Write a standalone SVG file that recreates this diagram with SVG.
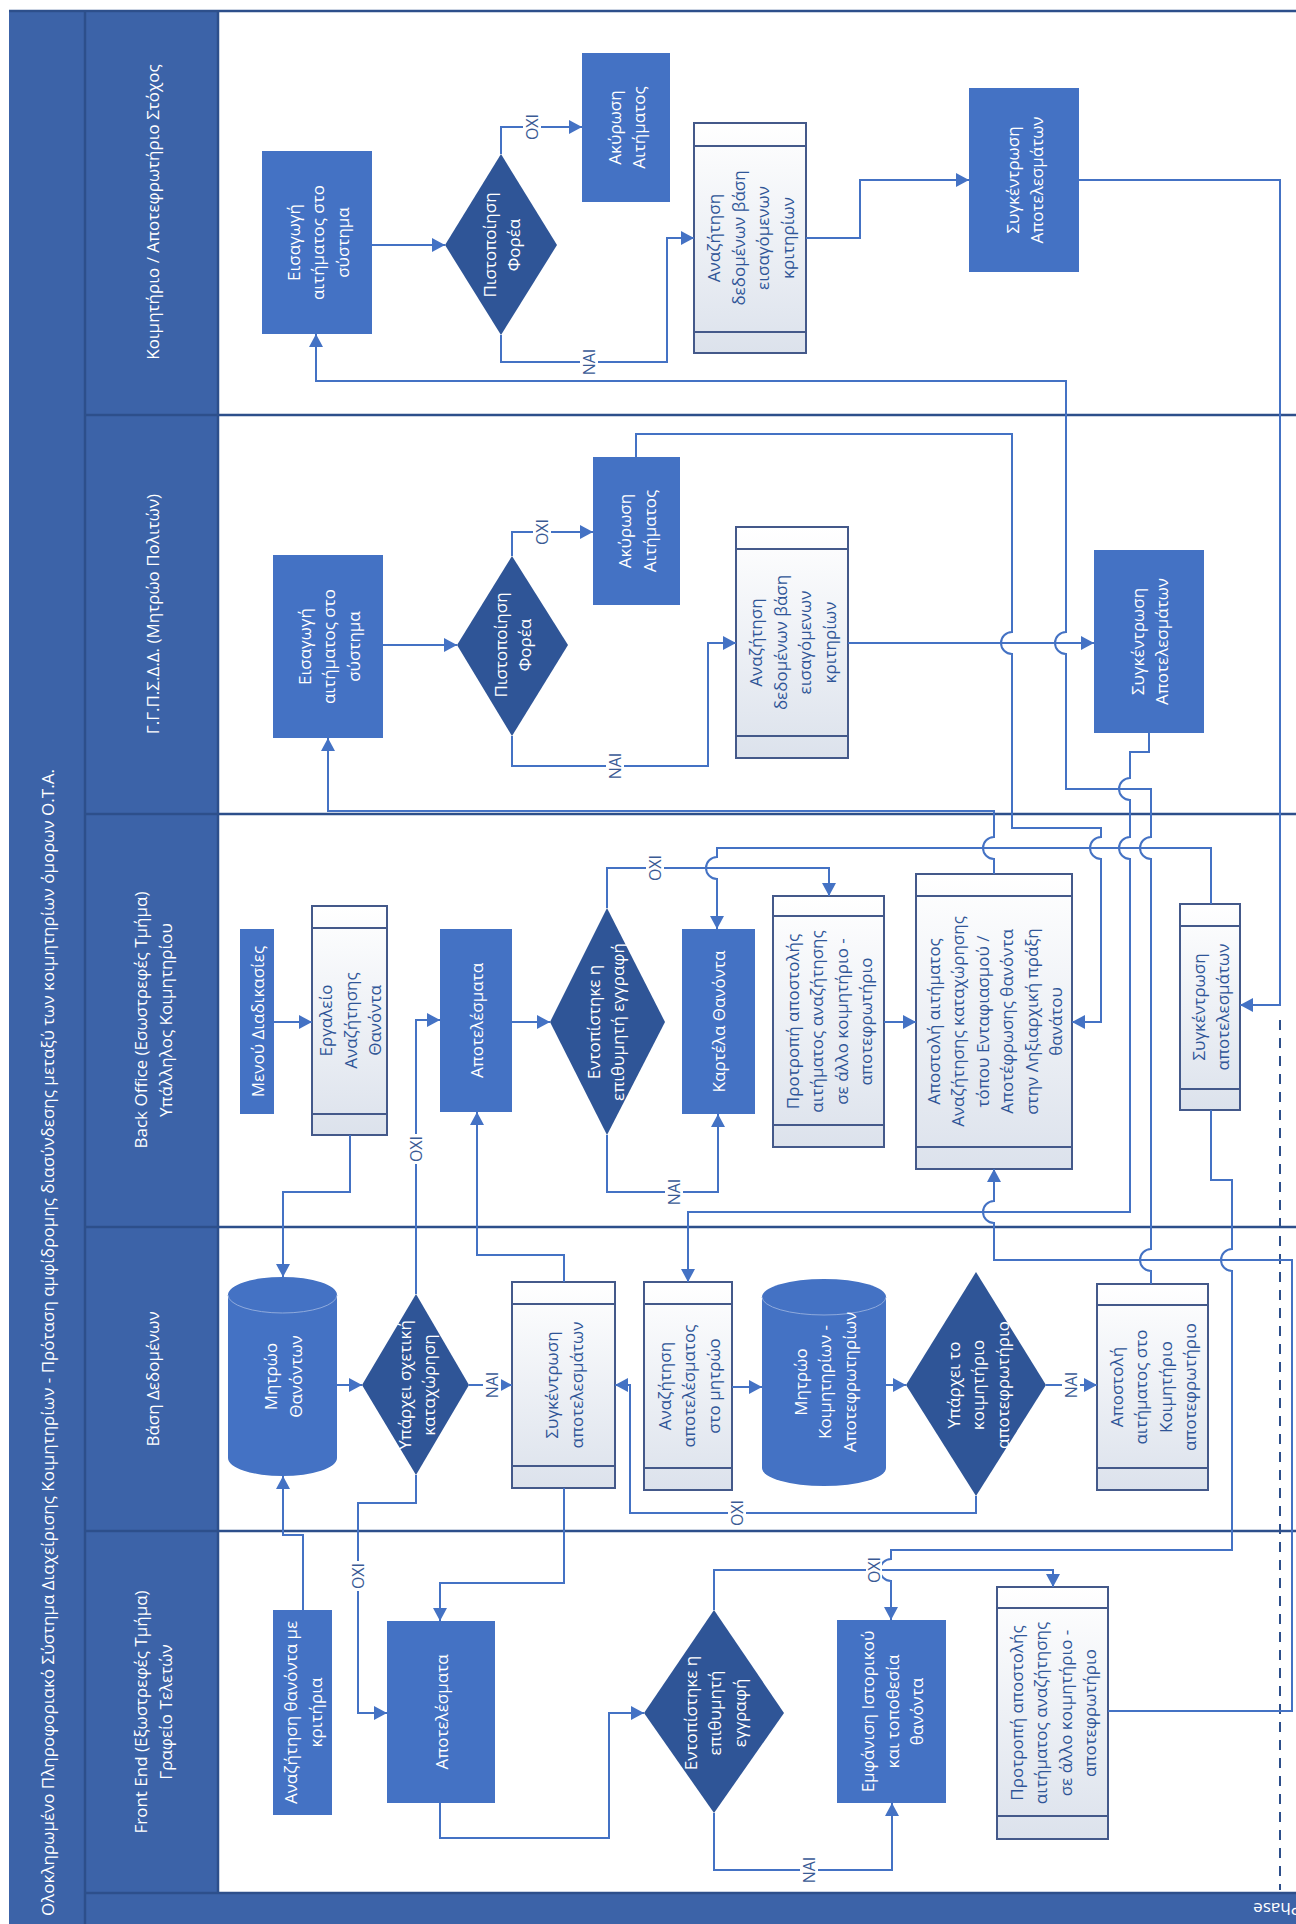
<svg xmlns="http://www.w3.org/2000/svg" width="1296" height="1924" viewBox="0 0 1296 1924">
<defs>
<linearGradient id="sg" x1="0" y1="0" x2="0" y2="1"><stop offset="0" stop-color="#FFFFFF"/><stop offset="1" stop-color="#DCE2EC"/></linearGradient>
<marker id="ah" markerUnits="userSpaceOnUse" markerWidth="14" markerHeight="14" refX="13" refY="7" orient="auto"><path d="M0,0 L13,7 L0,14 Z" fill="#4472C4"/></marker>
<style>
.hdr{fill:#3C63A8}
.ht{fill:#fff;font-family:"Open Sans","Noto Sans",sans-serif;font-size:17px;text-anchor:middle;dominant-baseline:central}
.lane{stroke:#2D4F8B;stroke-width:2.5;fill:none}
.box{fill:#4472C4}
.dia{fill:#2F5597}
.sub{fill:url(#sg);stroke:#44598A;stroke-width:2}
.subl{stroke:#44598A;stroke-width:2}
.lid{fill:none;stroke:#8FAADC;stroke-width:1}
.tw{fill:#fff;font-family:"Open Sans","Noto Sans",sans-serif;font-size:17px;text-anchor:middle;dominant-baseline:central}
.tb{fill:#2F5597;font-family:"Open Sans","Noto Sans",sans-serif;font-size:17px;text-anchor:middle;dominant-baseline:central}
.c{fill:none;stroke:#4472C4;stroke-width:2}
.a{marker-end:url(#ah)}
.lb{fill:#3A5A94;font-family:"Open Sans","Noto Sans",sans-serif;font-size:16px;text-anchor:middle;dominant-baseline:central}
.lbg{fill:#fff}
.dash{stroke:#2D4F8B;stroke-width:2;stroke-dasharray:10 8;fill:none}
</style>
</defs>

<g id="frame">
<rect x="9" y="10" width="1295" height="1920" class="hdr"/>
<rect x="218" y="11" width="1080" height="1882" fill="#FFFFFF"/>
<line x1="85" y1="10" x2="85" y2="1924" class="lane"/>
<line x1="218" y1="10" x2="218" y2="1893" class="lane"/>
<line x1="9" y1="11" x2="1296" y2="11" class="lane"/>
<line x1="85" y1="415" x2="1296" y2="415" class="lane"/>
<line x1="85" y1="814" x2="1296" y2="814" class="lane"/>
<line x1="85" y1="1227" x2="1296" y2="1227" class="lane"/>
<line x1="85" y1="1531" x2="1296" y2="1531" class="lane"/>
<line x1="85" y1="1893" x2="1296" y2="1893" class="lane"/>
<text class="ht" style="text-anchor:start" x="47" y="1916" transform="rotate(-90 47 1916)">Ολοκληρωμένο Πληροφοριακό Σύστημα Διαχείρισης Κοιμητηρίων - Πρόταση αμφίδρομης διασύνδεσης μεταξύ των κοιμητηρίων όμορων Ο.Τ.Α.</text>
<text class="ht" x="152" y="212" transform="rotate(-90 152 212)">Κοιμητήριο / Αποτεφρωτήριο Στόχος</text>
<text class="ht" x="152" y="614" transform="rotate(-90 152 614)">Γ.Γ.Π.Σ.Δ.Δ. (Μητρώο Πολιτών)</text>
<text class="ht" transform="rotate(-90 152 1020)"><tspan x="152" y="1007.5">Back Office (Εσωστρεφές Τμήμα)</tspan><tspan x="152" y="1032.5">Υπάλληλος Κοιμητηρίου</tspan></text>
<text class="ht" x="152" y="1379" transform="rotate(-90 152 1379)">Βάση Δεδομένων</text>
<text class="ht" transform="rotate(-90 152 1712)"><tspan x="152" y="1699.5">Front End (Εξωστρεφές Τμήμα)</tspan><tspan x="152" y="1724.5">Γραφείο Τελετών</tspan></text>
<text class="ht" style="text-anchor:start" x="1301" y="1909" transform="rotate(180 1301 1909)">Phase</text>
<line x1="1280" y1="1020" x2="1280" y2="1890" class="dash"/>
</g>

<g id="k_eis"><rect class="box" x="262" y="151" width="110" height="183"/>
<text class="tw" transform="rotate(-90 317 242.5)"><tspan x="317" y="218">Εισαγωγή</tspan><tspan x="317" y="242.5">αιτήματος στο</tspan><tspan x="317" y="267">σύστημα</tspan></text></g>
<g id="k_dia"><polygon class="dia" points="501,154 557,245 501,335 445,245"/>
<text class="tw" transform="rotate(-90 501 245)"><tspan x="501" y="232.75">Πιστοποίηση</tspan><tspan x="501" y="257.25">Φορέα</tspan></text></g>
<g id="k_ak"><rect class="box" x="582" y="53" width="88" height="149"/>
<text class="tw" transform="rotate(-90 626 127.5)"><tspan x="626" y="115.25">Ακύρωση</tspan><tspan x="626" y="139.75">Αιτήματος</tspan></text></g>
<g id="k_s1"><rect class="sub" x="694" y="123" width="112" height="230"/><line class="subl" x1="694" y1="146" x2="806" y2="146"/><line class="subl" x1="694" y1="332" x2="806" y2="332"/>
<text class="tb" transform="rotate(-90 750 238)"><tspan x="750" y="201.25">Αναζήτηση</tspan><tspan x="750" y="225.75">δεδομένων βάση</tspan><tspan x="750" y="250.25">εισαγόμενων</tspan><tspan x="750" y="274.75">κριτηρίων</tspan></text></g>
<g id="k_sum"><rect class="box" x="969" y="88" width="110" height="184"/>
<text class="tw" transform="rotate(-90 1024 180)"><tspan x="1024" y="167.75">Συγκέντρωση</tspan><tspan x="1024" y="192.25">Αποτελεσμάτων</tspan></text></g>

<g id="g_eis"><rect class="box" x="273" y="555" width="110" height="183"/>
<text class="tw" transform="rotate(-90 328 646.5)"><tspan x="328" y="622">Εισαγωγή</tspan><tspan x="328" y="646.5">αιτήματος στο</tspan><tspan x="328" y="671">σύστημα</tspan></text></g>
<g id="g_dia"><polygon class="dia" points="512,556 568,645 512,736 457,645"/>
<text class="tw" transform="rotate(-90 512 645)"><tspan x="512" y="632.75">Πιστοποίηση</tspan><tspan x="512" y="657.25">Φορέα</tspan></text></g>
<g id="g_ak"><rect class="box" x="593" y="457" width="87" height="148"/>
<text class="tw" transform="rotate(-90 636.5 531)"><tspan x="636.5" y="518.75">Ακύρωση</tspan><tspan x="636.5" y="543.25">Αιτήματος</tspan></text></g>
<g id="g_s2"><rect class="sub" x="736" y="527" width="112" height="231"/><line class="subl" x1="736" y1="549" x2="848" y2="549"/><line class="subl" x1="736" y1="736" x2="848" y2="736"/>
<text class="tb" transform="rotate(-90 792 642.5)"><tspan x="792" y="605.75">Αναζήτηση</tspan><tspan x="792" y="630.25">δεδομένων βάση</tspan><tspan x="792" y="654.75">εισαγόμενων</tspan><tspan x="792" y="679.25">κριτηρίων</tspan></text></g>
<g id="g_sum"><rect class="box" x="1094" y="550" width="110" height="183"/>
<text class="tw" transform="rotate(-90 1149 641.5)"><tspan x="1149" y="629.25">Συγκέντρωση</tspan><tspan x="1149" y="653.75">Αποτελεσμάτων</tspan></text></g>

<g id="b_menu"><rect class="box" x="240" y="929" width="34" height="185"/>
<text class="tw" x="257" y="1021.5" transform="rotate(-90 257 1021.5)">Μενού Διαδικασίες</text></g>
<g id="b_tool"><rect class="sub" x="312" y="906" width="75" height="229"/><line class="subl" x1="312" y1="928" x2="387" y2="928"/><line class="subl" x1="312" y1="1114" x2="387" y2="1114"/>
<text class="tb" transform="rotate(-90 349.5 1020.5)"><tspan x="349.5" y="996">Εργαλείο</tspan><tspan x="349.5" y="1020.5">Αναζήτησης</tspan><tspan x="349.5" y="1045">Θανόντα</tspan></text></g>
<g id="b_res"><rect class="box" x="440" y="929" width="72" height="183"/>
<text class="tw" x="476" y="1020.5" transform="rotate(-90 476 1020.5)">Αποτελέσματα</text></g>
<g id="b_dia"><polygon class="dia" points="607,908 665,1022 607,1135 550,1022"/>
<text class="tw" transform="rotate(-90 605 1022)"><tspan x="605" y="1009.75">Εντοπίστηκε η</tspan><tspan x="605" y="1034.25">επιθυμητή εγγραφή</tspan></text></g>
<g id="b_kart"><rect class="box" x="682" y="929" width="73" height="185"/>
<text class="tw" x="718.5" y="1021.5" transform="rotate(-90 718.5 1021.5)">Καρτέλα Θανόντα</text></g>
<g id="b_prot"><rect class="sub" x="773" y="896" width="111" height="251"/><line class="subl" x1="773" y1="916" x2="884" y2="916"/><line class="subl" x1="773" y1="1125" x2="884" y2="1125"/>
<text class="tb" transform="rotate(-90 828.5 1021.5)"><tspan x="828.5" y="984.75">Προτροπή αποστολής</tspan><tspan x="828.5" y="1009.25">αιτήματος αναζήτησης</tspan><tspan x="828.5" y="1033.75">σε άλλο κοιμητήριο -</tspan><tspan x="828.5" y="1058.25">αποτεφρωτήριο</tspan></text></g>
<g id="b_apo"><rect class="sub" x="916" y="874" width="156" height="295"/><line class="subl" x1="916" y1="896" x2="1072" y2="896"/><line class="subl" x1="916" y1="1147" x2="1072" y2="1147"/>
<text class="tb" transform="rotate(-90 994 1021.5)"><tspan x="994" y="960.25">Αποστολή αιτήματος</tspan><tspan x="994" y="984.75">Αναζήτησης καταχώρησης</tspan><tspan x="994" y="1009.25">τόπου Ενταφιασμού /</tspan><tspan x="994" y="1033.75">Αποτέφρωσης θανόντα</tspan><tspan x="994" y="1058.25">στην Ληξιαρχική πράξη</tspan><tspan x="994" y="1082.75">θανάτου</tspan></text></g>
<g id="b_sum"><rect class="sub" x="1180" y="904" width="60" height="206"/><line class="subl" x1="1180" y1="926" x2="1240" y2="926"/><line class="subl" x1="1180" y1="1089" x2="1240" y2="1089"/>
<text class="tb" transform="rotate(-90 1210 1007)"><tspan x="1210" y="994.75">Συγκέντρωση</tspan><tspan x="1210" y="1019.25">αποτελεσμάτων</tspan></text></g>

<g id="d_cyl1"><path class="box" d="M228,1295 A54.5,18 0 0 1 337,1295 L337,1458 A54.5,18 0 0 1 228,1458 Z"/><path class="lid" d="M228,1295 A54.5,18 0 0 0 337,1295"/>
<text class="tw" transform="rotate(-90 282.5 1376.5)"><tspan x="282.5" y="1364.25">Μητρώο</tspan><tspan x="282.5" y="1388.75">Θανόντων</tspan></text></g>
<g id="d_dia1"><polygon class="dia" points="416,1294 469,1385 416,1475 362,1385"/>
<text class="tw" transform="rotate(-90 416 1385)"><tspan x="416" y="1372.75">Υπάρχει σχετική</tspan><tspan x="416" y="1397.25">καταχώρηση</tspan></text></g>
<g id="d_sum"><rect class="sub" x="512" y="1282" width="103" height="206"/><line class="subl" x1="512" y1="1304" x2="615" y2="1304"/><line class="subl" x1="512" y1="1466" x2="615" y2="1466"/>
<text class="tb" transform="rotate(-90 563.5 1385)"><tspan x="563.5" y="1372.75">Συγκέντρωση</tspan><tspan x="563.5" y="1397.25">αποτελεσμάτων</tspan></text></g>
<g id="d_search"><rect class="sub" x="644" y="1282" width="88" height="208"/><line class="subl" x1="644" y1="1304" x2="732" y2="1304"/><line class="subl" x1="644" y1="1468" x2="732" y2="1468"/>
<text class="tb" transform="rotate(-90 688 1386)"><tspan x="688" y="1361.5">Αναζήτηση</tspan><tspan x="688" y="1386">αποτελέσματος</tspan><tspan x="688" y="1410.5">στο μητρώο</tspan></text></g>
<g id="d_cyl2"><path class="box" d="M762,1297 A62,18 0 0 1 886,1297 L886,1468 A62,18 0 0 1 762,1468 Z"/><path class="lid" d="M762,1297 A62,18 0 0 0 886,1297"/>
<text class="tw" transform="rotate(-90 824 1382)"><tspan x="824" y="1357.5">Μητρώο</tspan><tspan x="824" y="1382">Κοιμητηρίων -</tspan><tspan x="824" y="1406.5">Αποτεφρωτηρίων</tspan></text></g>
<g id="d_dia2"><polygon class="dia" points="976,1272 1046,1385 976,1496 906,1385"/>
<text class="tw" transform="rotate(-90 977 1385)"><tspan x="977" y="1360.5">Υπάρχει το</tspan><tspan x="977" y="1385">κοιμητήριο</tspan><tspan x="977" y="1409.5">αποτεφρωτήριο</tspan></text></g>
<g id="d_send"><rect class="sub" x="1097" y="1284" width="111" height="206"/><line class="subl" x1="1097" y1="1305" x2="1208" y2="1305"/><line class="subl" x1="1097" y1="1468" x2="1208" y2="1468"/>
<text class="tb" transform="rotate(-90 1152.5 1387)"><tspan x="1152.5" y="1350.25">Αποστολή</tspan><tspan x="1152.5" y="1374.75">αιτήματος στο</tspan><tspan x="1152.5" y="1399.25">Κοιμητήριο</tspan><tspan x="1152.5" y="1423.75">αποτεφρωτήριο</tspan></text></g>

<g id="f_search"><rect class="box" x="273" y="1610" width="59" height="205"/>
<text class="tw" transform="rotate(-90 302.5 1712.5)"><tspan x="302.5" y="1700.25">Αναζήτηση θανόντα με</tspan><tspan x="302.5" y="1724.75">κριτήρια</tspan></text></g>
<g id="f_res"><rect class="box" x="387" y="1621" width="108" height="182"/>
<text class="tw" x="441" y="1712" transform="rotate(-90 441 1712)">Αποτελέσματα</text></g>
<g id="f_dia"><polygon class="dia" points="714,1610 784,1713 714,1813 644,1713"/>
<text class="tw" transform="rotate(-90 714 1713)"><tspan x="714" y="1688.5">Εντοπίστηκε η</tspan><tspan x="714" y="1713">επιθυμητή</tspan><tspan x="714" y="1737.5">εγγραφή</tspan></text></g>
<g id="f_show"><rect class="box" x="837" y="1620" width="109" height="183"/>
<text class="tw" transform="rotate(-90 891.5 1711.5)"><tspan x="891.5" y="1687">Εμφάνιση Ιστορικού</tspan><tspan x="891.5" y="1711.5">και τοποθεσία</tspan><tspan x="891.5" y="1736">θανόντα</tspan></text></g>
<g id="f_prot"><rect class="sub" x="997" y="1587" width="111" height="252"/><line class="subl" x1="997" y1="1608" x2="1108" y2="1608"/><line class="subl" x1="997" y1="1816" x2="1108" y2="1816"/>
<text class="tb" transform="rotate(-90 1052.5 1713)"><tspan x="1052.5" y="1676.25">Προτροπή αποστολής</tspan><tspan x="1052.5" y="1700.75">αιτήματος αναζήτησης</tspan><tspan x="1052.5" y="1725.25">σε άλλο κοιμητήριο -</tspan><tspan x="1052.5" y="1749.75">αποτεφρωτήριο</tspan></text></g>

<g id="connectors">
<path class="c a" d="M372,245 L445,245"/>
<path class="c a" d="M501,154 L501,127 L582,127"/>
<path class="c a" d="M501,335 L501,362 L667,362 L667,238 L694,238"/>
<path class="c a" d="M806,238 L860,238 L860,180 L969,180"/>
<path class="c a" d="M1079,180 L1280,180 L1280,1005 L1240,1005"/>
<path class="c a" d="M1151,1284 L1151,1271 A11,11 0 0 1 1151,1249 L1151,859 A11,11 0 0 1 1151,837 L1151,789 L1066,789 L1066,654 A11,11 0 0 1 1066,632 L1066,381 L316,381 L316,334"/>
<path class="c a" d="M636,457 L636,434 L1012,434 L1012,632 A11,11 0 0 0 1012,654 L1012,828 L1101,828 L1101,837 A11,11 0 0 0 1101,859 L1101,1022 L1072,1022"/>
<path class="c a" d="M994,874 L994,859 A11,11 0 0 1 994,837 L994,811 L328,811 L328,738"/>
<path class="c a" d="M383,645 L457,645"/>
<path class="c a" d="M512,556 L512,532 L593,532"/>
<path class="c a" d="M512,736 L512,766 L708,766 L708,643 L736,643"/>
<path class="c a" d="M848,643 L1094,643"/>
<path class="c a" d="M1149,733 L1149,752 L1130,752 L1130,778 A11,11 0 0 0 1130,800 L1130,837 A11,11 0 0 0 1130,859 L1130,1212 L688,1212 L688,1282"/>
<path class="c a" d="M1211,904 L1211,848 L717,848 L717,857 A11,11 0 0 0 717,879 L717,929"/>
<path class="c a" d="M607,908 L607,868 L829,868 L829,896"/>
<path class="c a" d="M607,1135 L607,1192 L718,1192 L718,1114"/>
<path class="c a" d="M512,1022 L550,1022"/>
<path class="c a" d="M884,1022 L916,1022"/>
<path class="c a" d="M274,1022 L312,1022"/>
<path class="c a" d="M350,1135 L350,1192 L283,1192 L283,1277"/>
<path class="c a" d="M416,1294 L416,1020 L440,1020"/>
<path class="c a" d="M564,1282 L564,1255 L477,1255 L477,1112"/>
<path class="c a" d="M337,1385 L362,1385"/>
<path class="c a" d="M469,1385 L512,1385"/>
<path class="c a" d="M416,1475 L416,1503 L358,1503 L358,1713 L387,1713"/>
<path class="c a" d="M564,1488 L564,1583 L440,1583 L440,1621"/>
<path class="c a" d="M732,1387 L762,1387"/>
<path class="c a" d="M886,1385 L906,1385"/>
<path class="c a" d="M1046,1385 L1097,1385"/>
<path class="c a" d="M976,1496 L976,1513 L630,1513 L630,1385 L615,1385"/>
<path class="c a" d="M303,1610 L303,1535 L283,1535 L283,1476"/>
<path class="c a" d="M440,1803 L440,1838 L609,1838 L609,1713 L644,1713"/>
<path class="c a" d="M714,1813 L714,1870 L892,1870 L892,1803"/>
<path class="c a" d="M714,1610 L714,1570 L1053,1570 L1053,1587"/>
<path class="c a" d="M1211,1110 L1211,1180 L1232,1180 L1232,1249 A11,11 0 0 0 1232,1271 L1232,1550 L891,1550 L891,1559 A11,11 0 0 0 891,1581 L891,1620"/>
<path class="c a" d="M1108,1711 L1292,1711 L1292,1260 L994,1260 L994,1223 A11,11 0 0 1 994,1201 L994,1169"/>
<g id="labels">
<rect class="lbg" x="523" y="112" width="18" height="30"/><text class="lb" x="532" y="127" transform="rotate(-90 532 127)">ΟΧΙ</text>
<rect class="lbg" x="580" y="347" width="18" height="30"/><text class="lb" x="589" y="362" transform="rotate(-90 589 362)">ΝΑΙ</text>
<rect class="lbg" x="533" y="517" width="18" height="30"/><text class="lb" x="542" y="532" transform="rotate(-90 542 532)">ΟΧΙ</text>
<rect class="lbg" x="606" y="751" width="18" height="30"/><text class="lb" x="615" y="766" transform="rotate(-90 615 766)">ΝΑΙ</text>
<rect class="lbg" x="646" y="853" width="18" height="30"/><text class="lb" x="655" y="868" transform="rotate(-90 655 868)">ΟΧΙ</text>
<rect class="lbg" x="665" y="1177" width="18" height="30"/><text class="lb" x="674" y="1192" transform="rotate(-90 674 1192)">ΝΑΙ</text>
<rect class="lbg" x="407" y="1134" width="18" height="30"/><text class="lb" x="416" y="1149" transform="rotate(-90 416 1149)">ΟΧΙ</text>
<rect class="lbg" x="349" y="1561" width="18" height="30"/><text class="lb" x="358" y="1576" transform="rotate(-90 358 1576)">ΟΧΙ</text>
<rect class="lbg" x="483" y="1370" width="18" height="30"/><text class="lb" x="492" y="1385" transform="rotate(-90 492 1385)">ΝΑΙ</text>
<rect class="lbg" x="728" y="1498" width="18" height="30"/><text class="lb" x="737" y="1513" transform="rotate(-90 737 1513)">ΟΧΙ</text>
<rect class="lbg" x="1062" y="1370" width="18" height="30"/><text class="lb" x="1071" y="1385" transform="rotate(-90 1071 1385)">ΝΑΙ</text>
<rect class="lbg" x="800" y="1855" width="18" height="30"/><text class="lb" x="809" y="1870" transform="rotate(-90 809 1870)">ΝΑΙ</text>
<rect class="lbg" x="866" y="1555" width="16" height="30"/><text class="lb" x="874" y="1570" transform="rotate(-90 874 1570)">ΟΧΙ</text>
</g>
</g>
</svg>
